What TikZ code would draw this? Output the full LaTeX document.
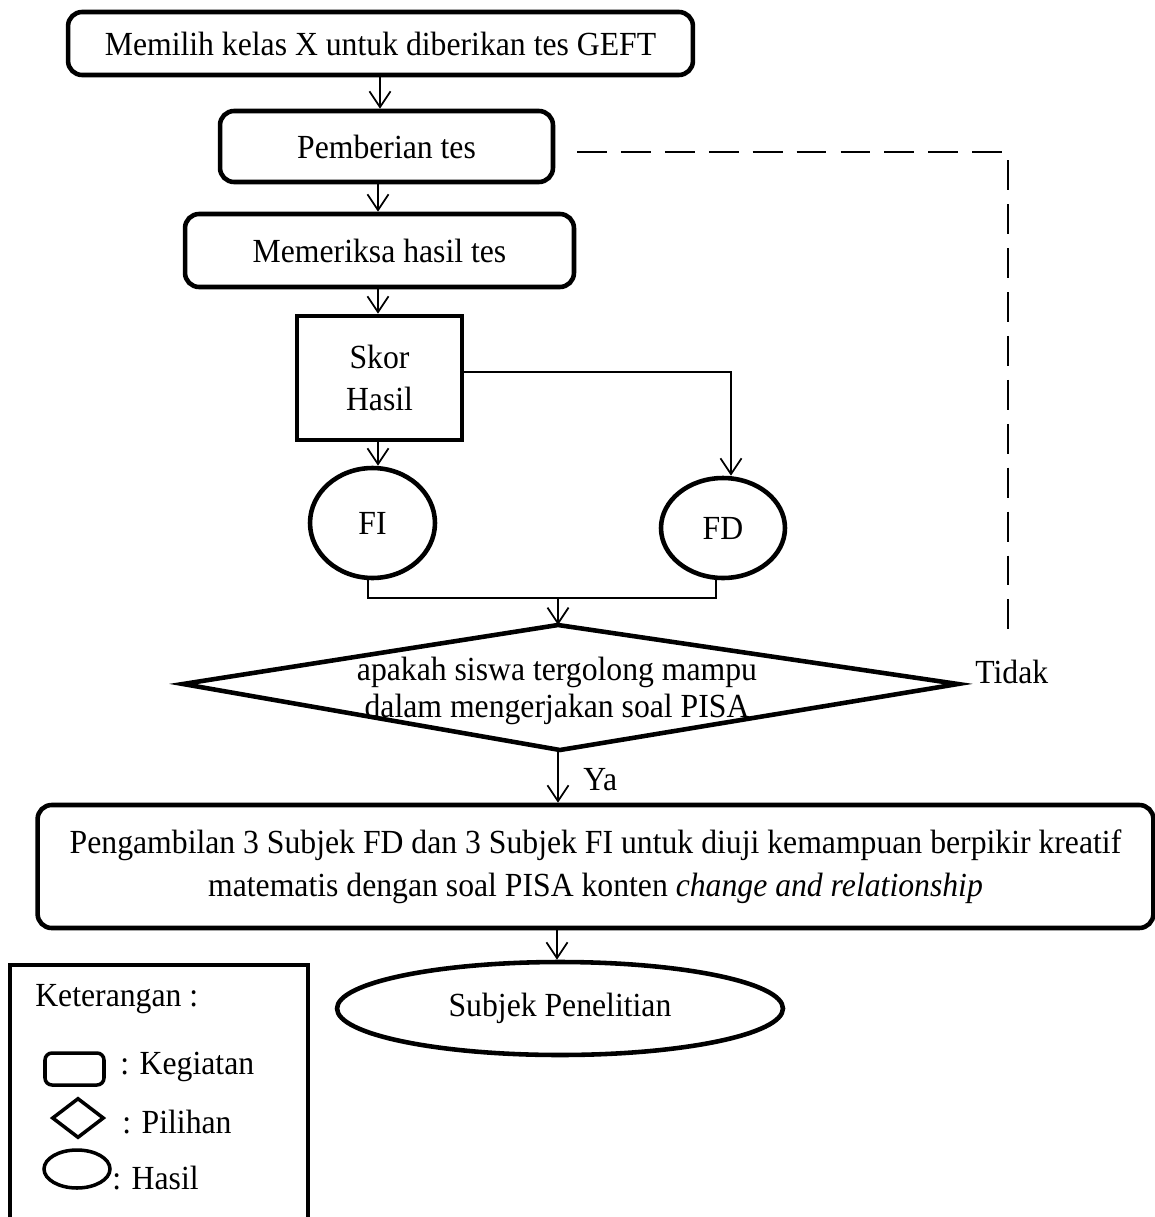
\documentclass[tikz,border=0pt]{standalone}
\usepackage{fontspec}
\setmainfont{Liberation Serif}[FakeStretch=0.94]
\usetikzlibrary{arrows.meta,shapes.geometric}
\begin{document}
\begin{tikzpicture}[x=0.02cm,y=-0.02cm,
  every node/.style={font=\fontsize{19.2}{24.4}\selectfont},
  activity/.style={draw,rounded corners=8pt,line width=2.6pt,inner sep=0pt},
  scorebox/.style={draw,line width=2.6pt,inner sep=0pt},
  result/.style={draw,ellipse,line width=2.6pt,inner sep=0pt},
  flow/.style={line width=1pt,-{Straight Barb[length=9pt,width=12pt]}},
  plain/.style={line width=1pt},
  back/.style={line width=1pt,dash pattern=on 17pt off 8pt},
  label/.style={inner sep=0pt,anchor=west}]
\useasboundingbox (0,0) rectangle (1155,1217);

% main flow
\node[activity,minimum width=12.5cm,minimum height=1.26cm] (pilih) at (380.5,43.5)
  {Memilih kelas X untuk diberikan tes GEFT};
\node[activity,minimum width=6.66cm,minimum height=1.42cm] (beri) at (386.5,146.5)
  {Pemberian tes};
\node[activity,minimum width=7.78cm,minimum height=1.46cm] (periksa) at (379.5,250.5)
  {Memeriksa hasil tes};
\node[scorebox,minimum width=3.3cm,minimum height=2.48cm,align=center] (skor) at (379.5,378)
  {Skor\\Hasil};
\node[result,minimum width=2.5cm,minimum height=2.2cm] (fi) at (372.5,523) {FI};
\node[result,minimum width=2.48cm,minimum height=2.0cm] (fd) at (723,528) {FD};

% decision
\coordinate (dT) at (558,625);
\coordinate (dR) at (958,684);
\coordinate (dB) at (560,750);
\coordinate (dL) at (183,684);
\draw[line width=2.6pt,line join=miter] (dT) -- (dR) -- (dB) -- (dL) -- cycle;
\node[align=center,font=\fontsize{19.2}{21.5}\selectfont] (tanya) at (557,691)
  {apakah siswa tergolong mampu\\dalam mengerjakan soal PISA};
\node[label] (tidak) at (975,672) {Tidak};

\node[activity,minimum width=22.32cm,minimum height=2.46cm,align=center] (ambil) at (595.5,866.5)
  {Pengambilan 3 Subjek FD dan 3 Subjek FI untuk diuji kemampuan berpikir kreatif\\
   matematis dengan soal PISA konten \textit{change and relationship}};
\node[result,minimum width=8.92cm,minimum height=1.86cm] (subjek) at (560,1008.5)
  {Subjek Penelitian};

% connectors
\draw[flow] (pilih.south -| 380,0) -- (beri.north -| 380,0);
\draw[flow] (beri.south -| 378,0) -- (periksa.north -| 378,0);
\draw[flow] (periksa.south -| 378,0) -- (skor.north -| 378,0);
\draw[flow] (skor.south -| 378,0) -- (fi.north -| 378,0);
\draw[flow] (skor.east |- 0,372) -| (fd.north -| 731,0);
\coordinate (join) at (558,598);
\draw[plain] (fi.south -| 368,0) |- (join) -| (fd.south -| 716,0);
\draw[flow] (join) -- (dT);
\draw[flow] (dB -| 558,0) -- (ambil.north -| 558,0)
  node[pos=0.5,label,xshift=14pt,yshift=-2pt] (ya) {Ya};
\draw[flow] (ambil.south -| 557,0) -- (subjek.north -| 557,0);
\coordinate (tEnd) at (1008,640);
\draw[back] (577,152) -| (tEnd);

% legend
\draw[line width=2.3pt] (10,1235) |- (308,965) -- (308,1235);
\node[label] (ket) at (35,999) {Keterangan :};
\node[draw,rounded corners=4pt,line width=2pt,minimum width=1.18cm,minimum height=0.64cm] (lk) at (74.5,1069) {};
\node[label] (tk) at (120,1067) {: Kegiatan};
\node[draw,diamond,line width=2pt,inner sep=0pt,minimum width=1.04cm,minimum height=0.8cm] (lp) at (78,1118) {};
\node[label] (tp) at (122,1122) {: Pilihan};
\node[draw,ellipse,line width=2pt,inner sep=0pt,minimum width=1.32cm,minimum height=0.76cm] (lh) at (77,1169) {};
\node[label] (th) at (112,1178) {: Hasil};
\end{tikzpicture}
\end{document}
